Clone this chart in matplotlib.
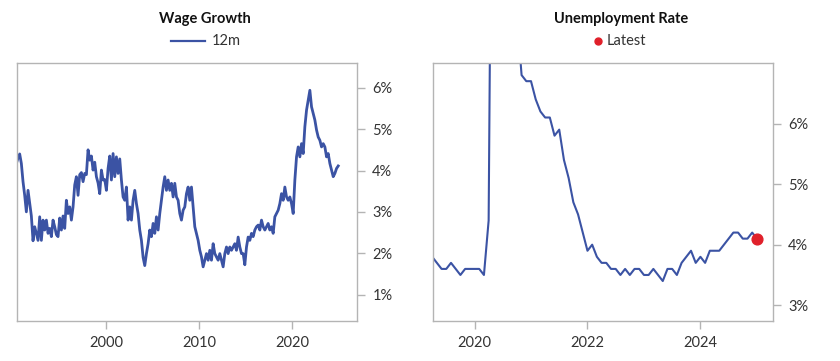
import numpy as np
import matplotlib
matplotlib.use("Agg")
import matplotlib.pyplot as plt
from matplotlib.lines import Line2D

plt.rcParams['font.family'] = ['Lato', 'DejaVu Sans']

# wage growth tracker, 12m (roughly every 2 months, mid-1990 to end-2024)
wage = [4.17, 4.30, 4.40, 4.17, 3.73, 3.40, 3.00, 3.52, 3.20, 2.90,
        2.30, 2.64, 2.48, 2.31, 2.88, 2.31, 2.80, 2.56, 2.80, 2.48,
        2.60, 2.40, 2.80, 2.64, 2.45, 2.40, 2.85, 2.56, 2.90, 2.60,
        3.28, 2.96, 3.12, 2.80, 3.12, 3.65, 3.85, 3.40, 3.90, 3.95,
        3.73, 3.93, 3.90, 4.50, 4.25, 4.35, 4.01, 4.20, 3.85, 3.70,
        3.44, 4.01, 3.77, 3.78, 3.52, 4.05, 4.35, 3.77, 4.41, 3.85,
        4.33, 3.93, 4.28, 3.77, 3.36, 3.28, 3.60, 2.80, 3.12, 2.80,
        3.28, 3.52, 3.20, 2.96, 2.56, 2.31, 1.90, 1.70, 1.99, 2.23,
        2.56, 2.40, 2.72, 2.48, 2.88, 2.56, 2.96, 3.28, 3.60, 3.85,
        3.52, 3.77, 3.52, 3.69, 3.36, 3.69, 3.36, 3.28, 2.96, 2.80,
        3.04, 3.12, 3.44, 3.60, 3.28, 3.60, 3.12, 2.64, 2.48, 2.31,
        2.07, 1.91, 1.67, 1.83, 1.99, 1.83, 2.07, 1.83, 2.23, 1.99,
        1.91, 1.83, 1.99, 1.83, 1.67, 1.99, 2.15, 1.99, 2.15, 2.07,
        2.15, 2.23, 2.07, 2.39, 2.15, 1.99, 1.99, 1.72, 2.15, 2.39,
        2.31, 2.48, 2.40, 2.56, 2.64, 2.68, 2.56, 2.80, 2.64, 2.56,
        2.64, 2.72, 2.56, 2.64, 2.48, 2.88, 2.96, 3.04, 3.20, 3.44,
        3.28, 3.60, 3.36, 3.28, 3.36, 3.20, 2.96, 3.77, 4.33, 4.57,
        4.33, 4.65, 4.41, 5.06, 5.46, 5.70, 5.94, 5.54, 5.38, 5.22,
        4.98, 4.81, 4.73, 4.57, 4.65, 4.57, 4.33, 4.41, 4.17, 4.01,
        3.85, 3.93, 4.05, 4.11]
wage_start, wage_end = 1990.36, 2024.98

# unemployment rate, monthly, Mar 2019 - Dec 2024
unemp = [3.8, 3.7, 3.6, 3.6, 3.7, 3.6, 3.5, 3.6, 3.6, 3.6,
         3.6, 3.5, 4.4, 14.8, 13.2, 11.0, 10.2, 8.4, 7.8, 6.8, 6.7, 6.7,
         6.4, 6.2, 6.1, 6.1, 5.8, 5.9, 5.4, 5.1, 4.7, 4.5, 4.2, 3.9,
         4.0, 3.8, 3.7, 3.7, 3.6, 3.6, 3.5, 3.6, 3.5, 3.6, 3.6, 3.5,
         3.5, 3.6, 3.5, 3.4, 3.6, 3.6, 3.5, 3.7, 3.8, 3.9, 3.7, 3.8,
         3.7, 3.9, 3.9, 3.9, 4.0, 4.1, 4.2, 4.2, 4.1, 4.1, 4.2, 4.1]
unemp_start = 2019.25  # end of March 2019

wage_yticks = [1, 2, 3, 4, 5, 6]
wage_xticks = [2000, 2010, 2020]
unemp_yticks = [3, 4, 5, 6]
unemp_xticks = [2020, 2022, 2024]

blue = '#3b53a4'
red = '#e0202a'
spine_c = '#b4b4b4'
txt_c = '#333333'

wage_x = np.linspace(wage_start, wage_end, len(wage))
unemp_x = unemp_start + np.arange(len(unemp)) / 12

fig = plt.figure(figsize=(8.4, 3.61), dpi=100)
ax1 = fig.add_axes([17/840, 40/361, 340/840, 258/361])
ax2 = fig.add_axes([433.3/840, 40/361, 339.4/840, 258/361])

ax1.plot(wage_x, wage, color=blue, lw=2.0)
ax1.set_xlim(1990.43, 2027.0)
ax1.set_ylim(0.36, 6.6)
ax1.set_yticks(wage_yticks)
ax1.set_xticks(wage_xticks)

ax2.plot(unemp_x, unemp, color=blue, lw=1.5)
ax2.scatter([unemp_x[-1]], [unemp[-1]], s=60, color=red, zorder=5)
ax2.set_xlim(2019.27, 2025.28)
ax2.set_ylim(2.74, 7.0)
ax2.set_yticks(unemp_yticks)
ax2.set_xticks(unemp_xticks)

for ax in (ax1, ax2):
    for s in ax.spines.values():
        s.set_color(spine_c)
        s.set_linewidth(1.0)
    ax.yaxis.tick_right()
    ax.set_yticklabels([f'{v}%' for v in ax.get_yticks()])
    ax.set_xticklabels([str(v) for v in ax.get_xticks()])
    ax.tick_params(axis='both', length=6, width=1, color=spine_c,
                   labelsize=10.5, labelcolor=txt_c, pad=5)

fig.text(204.5/840, 1 - 19/361, 'Wage Growth', ha='center', va='center',
         fontsize=10.5, fontweight='bold', color='#111111')
fig.text(621/840, 1 - 19/361, 'Unemployment Rate', ha='center', va='center',
         fontsize=10.5, fontweight='bold', color='#111111')

# legends drawn as figure-level marks
fig.add_artist(Line2D([171/840, 205/840], [1 - 41/361] * 2, color=blue, lw=1.6))
fig.text(212/840, 1 - 41/361, '12m', ha='left', va='center', fontsize=10.5, color=txt_c)
fig.add_artist(Line2D([597.7/840], [1 - 41/361], marker='o', ms=5, color=red, lw=0))
fig.text(607/840, 1 - 41/361, 'Latest', ha='left', va='center', fontsize=10.5, color=txt_c)

fig.savefig('out.png', dpi=100)
